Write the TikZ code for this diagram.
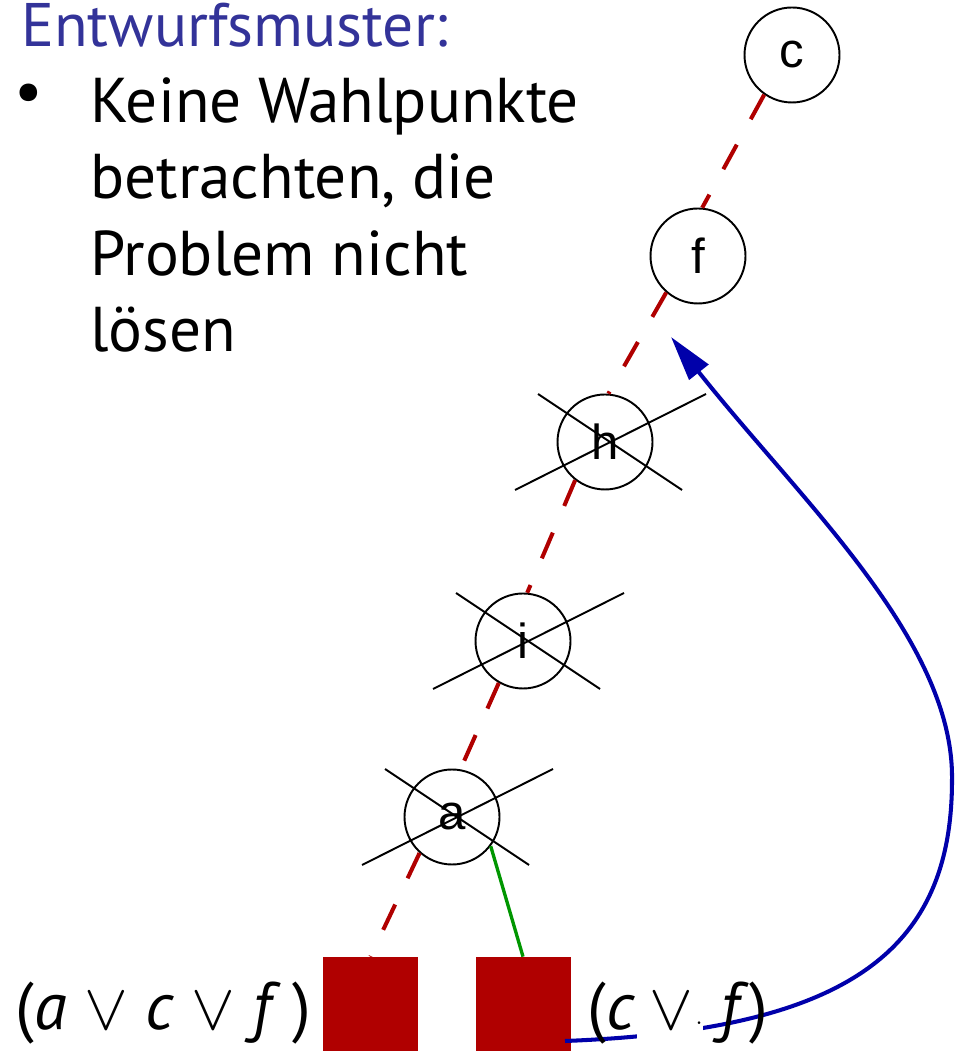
\documentclass[tikz,border=0pt]{standalone}
\usepackage{fontspec}
\setmainfont{PT Sans}
\newfontfamily\labelfont{Liberation Sans}
\usepackage{graphicx}
\usepackage{xcolor}
\usetikzlibrary{arrows.meta,positioning}
\definecolor{titleblue}{RGB}{51,51,153}
\definecolor{clausered}{RGB}{176,0,0}
\definecolor{watchgreen}{RGB}{0,150,0}
\definecolor{jumpblue}{RGB}{0,0,170}
\newcommand{\orsym}{\scalebox{1.5}{$\vee$}}

\begin{document}
\begin{tikzpicture}[
  x=1cm,y=1cm,>=Triangle,
  choice/.style={draw=black,circle,line width=1.1pt,fill=white,
    minimum size=1.9cm,inner sep=0pt,
    font=\labelfont\fontsize{28}{28}\selectfont},
  clause/.style={fill=clausered,minimum width=1.9cm,minimum height=1.88cm,
    inner sep=0pt},
  strike/.style={draw=black,line width=1.1pt},
  trail/.style={draw=clausered,line width=2.3pt,
    dash pattern=on 0.56cm off 0.58cm},
  watch/.style={draw=watchgreen,line width=1.9pt},
  jump/.style={-{Triangle[length=0.9cm,width=0.48cm]},draw=jumpblue,
    line width=2.3pt},
  formula/.style={anchor=base west,inner sep=0pt,
    font=\fontsize{38}{38}\selectfont},
  body/.style={anchor=base west,inner sep=0pt,align=left,
    font=\fontsize{36}{43.6}\selectfont}
]
\useasboundingbox (0,0) rectangle (19.08,21.02);

\node[anchor=base west,inner sep=0pt,text=titleblue,
  font=\fontsize{35}{35}\selectfont] (title) at (0.42,20.08) {Entwurfsmuster:};
\node[anchor=center,inner sep=0pt,font=\fontsize{36}{36}\selectfont]
  (bullet) at (0.58,19.06) {•};
\node[body] (points) at (1.80,13.98)
  {Keine Wahlpunkte\\betrachten, die\\Problem nicht\\lösen};

\node[choice] (c) at (15.84,19.92) {c};
\node[choice] (f) at (13.96,15.90) {f};
\node[choice] (h) at (12.10,12.18) {h};
\node[choice] (i) at (10.46,8.20) {i};
\node[choice] (a) at (9.04,4.68) {a};

\node[clause] (left) at (7.41,0.94) {};
\node[clause] (right) at (10.46,0.94) {};

\draw[trail] (c.235) -- (f.85);
\draw[trail] (f.229) -- (h.86);
\draw[trail] (h.232) -- (i.85);
\draw[trail] (i.240) -- (a.80);
\draw[trail] (a.228) -- (left.north);
\draw[watch] (a.-37) -- (right.north);

\draw[strike] ([shift={(-1.80,-0.96)}]h.center) -- ([shift={(2.02,0.96)}]h.center);
\draw[strike] ([shift={(-1.34,0.96)}]h.center) -- ([shift={(1.54,-0.96)}]h.center);
\draw[strike] ([shift={(-1.80,-0.96)}]i.center) -- ([shift={(2.02,0.96)}]i.center);
\draw[strike] ([shift={(-1.34,0.96)}]i.center) -- ([shift={(1.54,-0.96)}]i.center);
\draw[strike] ([shift={(-1.80,-0.96)}]a.center) -- ([shift={(2.02,0.96)}]a.center);
\draw[strike] ([shift={(-1.34,0.96)}]a.center) -- ([shift={(1.54,-0.96)}]a.center);

\node[formula] (leftclause) at (0.30,0.42)
  {(\textit{a}\hspace{0.35cm}\orsym\hspace{0.35cm}\textit{c}\hspace{0.35cm}\orsym\hspace{0.35cm}\textit{f}\,)};

\coordinate (jumpfrom) at (11.30,0.20);
\coordinate (jumpto) at (13.42,14.28);
\draw[jump] (jumpfrom) .. controls (17.00,0.42) and (19.04,2.02) .. (19.04,5.42)
  .. controls (19.08,8.22) and (16.00,11.02) .. (jumpto);

\node[formula] (rightopen) at (11.74,0.42) {(\textit{c}};
\node[formula,fill=white,inner ysep=0.32cm] (rightor) at (12.74,0.42)
  {\hspace{0.25cm}\orsym\hspace{0.04cm}{\fontsize{14}{14}\selectfont$\cdot$}};
\node[formula] (rightclose) at (14.40,0.42) {\textit{f})};
\end{tikzpicture}
\end{document}
